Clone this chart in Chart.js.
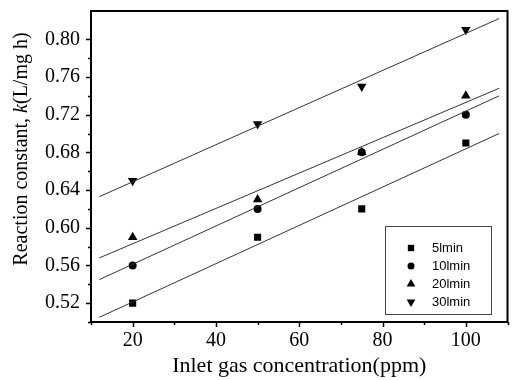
<!DOCTYPE html>
<html>
<head>
<meta charset="utf-8">
<script src="https://cdn.jsdelivr.net/npm/chart.js@4/dist/chart.umd.min.js"></script>
<style>
  html, body { margin: 0; padding: 0; background: #fff; }
  canvas { display: block; }
</style>
</head>
<body>
<canvas id="kChart" width="513" height="380"></canvas>
<script>
// measured points
const concentration = [20, 50, 75, 100];
const k5 = [0.52, 0.59, 0.62, 0.69];
const k10 = [0.56, 0.62, 0.68, 0.72];
const k20 = [0.59, 0.63, 0.68, 0.74];
const k30 = [0.65, 0.71, 0.75, 0.81];

// fitted lines at both ends
const fitX = [12, 108];
const fit5 = [0.505, 0.700];
const fit10 = [0.545, 0.740];
const fit20 = [0.568, 0.748];
const fit30 = [0.633, 0.822];

const seriesNames = ["5lmin", "10lmin", "20lmin", "30lmin"];
const markers = [
  { pointStyle: 'rect', radius: 5, rotation: 0 },
  { pointStyle: 'circle', radius: 4, rotation: 0 },
  { pointStyle: 'triangle', radius: 5.5, rotation: 0 },
  { pointStyle: 'triangle', radius: 5.5, rotation: 180 }
];

const serif = "'Liberation Serif', 'Times New Roman', serif";

function pts(xs, ys) {
  return xs.map((x, i) => ({ x: x, y: ys[i] }));
}

function fitSet(ys) {
  return {
    type: 'line',
    data: pts(fitX, ys),
    borderColor: '#333',
    borderWidth: 1,
    pointRadius: 0,
    fill: false
  };
}

function markSet(ys, i) {
  return {
    type: 'scatter',
    label: seriesNames[i],
    data: pts(concentration, ys),
    pointStyle: markers[i].pointStyle,
    pointRadius: markers[i].radius,
    rotation: markers[i].rotation,
    backgroundColor: '#000',
    borderColor: '#000',
    borderWidth: 0
  };
}

// box, tick marks, axis titles, legend
const framePlugin = {
  id: 'frame',
  afterDraw(chart) {
    const ctx = chart.ctx;
    const a = chart.chartArea;
    ctx.save();
    ctx.strokeStyle = '#000';
    ctx.lineWidth = 2;
    ctx.strokeRect(a.left, a.top, a.right - a.left, a.bottom - a.top);

    ctx.lineWidth = 1.5;
    chart.scales.x.ticks.forEach(t => {
      const px = Math.round(chart.scales.x.getPixelForValue(t.value)) + 0.5;
      const len = t.label ? 5 : 3;
      ctx.beginPath();
      ctx.moveTo(px, a.bottom);
      ctx.lineTo(px, a.bottom + len);
      ctx.stroke();
    });
    chart.scales.y.ticks.forEach(t => {
      const r = Math.round(t.value * 100);
      if (Math.abs(t.value * 100 - r) > 1e-6 || r % 2 !== 0) return;
      const py = Math.round(chart.scales.y.getPixelForValue(t.value)) + 0.5;
      const len = t.label ? 5 : 3;
      ctx.beginPath();
      ctx.moveTo(a.left, py);
      ctx.lineTo(a.left - len, py);
      ctx.stroke();
    });

    // x title
    ctx.fillStyle = '#000';
    ctx.font = "22px " + serif;
    ctx.textAlign = 'center';
    ctx.textBaseline = 'alphabetic';
    ctx.fillText("Inlet gas concentration(ppm)", (a.left + a.right) / 2, 372);

    // y title with italic k
    ctx.translate(27, 149);
    ctx.rotate(-Math.PI / 2);
    const parts = [
      ["Reaction constant, ", "20px " + serif],
      ["k", "italic 20px " + serif],
      ["(L/mg h)", "20px " + serif]
    ];
    let total = 0;
    parts.forEach(p => { ctx.font = p[1]; total += ctx.measureText(p[0]).width; });
    let cx = -total / 2;
    ctx.textAlign = 'left';
    parts.forEach(p => {
      ctx.font = p[1];
      ctx.fillText(p[0], cx, 0);
      cx += ctx.measureText(p[0]).width;
    });
    ctx.restore();

    // legend
    ctx.save();
    ctx.strokeStyle = '#444';
    ctx.lineWidth = 1;
    ctx.strokeRect(385.5, 226.5, 106, 88);
    ctx.font = "13px 'Liberation Sans', Arial, sans-serif";
    ctx.textAlign = 'left';
    ctx.textBaseline = 'middle';
    const rowY = [248, 266, 284, 302];
    seriesNames.forEach((name, i) => {
      ctx.fillStyle = '#000';
      ctx.strokeStyle = '#000';
      Chart.helpers.drawPoint(ctx, {
        pointStyle: markers[i].pointStyle,
        radius: markers[i].radius - 0.5,
        rotation: markers[i].rotation,
        borderWidth: 0
      }, 411, rowY[i]);
      ctx.fillStyle = '#000';
      ctx.fillText(name, 432, rowY[i]);
    });
    ctx.restore();
  }
};

new Chart(document.getElementById('kChart'), {
  type: 'scatter',
  data: {
    datasets: [
      fitSet(fit5), fitSet(fit10), fitSet(fit20), fitSet(fit30),
      markSet(k5, 0), markSet(k10, 1), markSet(k20, 2), markSet(k30, 3)
    ]
  },
  options: {
    responsive: false,
    animation: false,
    layout: { padding: { left: 0, right: 2, top: 11, bottom: 0 } },
    plugins: {
      legend: { display: false },
      tooltip: { enabled: false }
    },
    scales: {
      x: {
        type: 'linear',
        min: 10,
        max: 110,
        border: { display: false },
        grid: { display: false, drawTicks: false },
        ticks: {
          stepSize: 10,
          autoSkip: false,
          maxRotation: 0,
          padding: 7,
          color: '#000',
          font: { family: serif, size: 20 },
          callback: v => (v % 20 === 0 && v >= 20 && v <= 100) ? String(v) : ''
        },
        afterFit(s) {
          s.height = 58;
          s.paddingLeft = 0;
          s.paddingRight = 0;
        }
      },
      y: {
        type: 'linear',
        min: 0.50,
        max: 0.83,
        border: { display: false },
        grid: { display: false, drawTicks: false },
        ticks: {
          stepSize: 0.02,
          autoSkip: false,
          padding: 11,
          color: '#000',
          font: { family: serif, size: 20 },
          callback: v => {
            const r = Math.round(v * 100);
            return (r >= 52 && (r - 52) % 4 === 0 && Math.abs(v * 100 - r) < 1e-6) ? v.toFixed(2) : '';
          }
        },
        afterFit(s) {
          s.width = 91;
          s.paddingTop = 0;
          s.paddingBottom = 0;
        }
      }
    }
  },
  plugins: [framePlugin]
});
</script>
</body>
</html>
